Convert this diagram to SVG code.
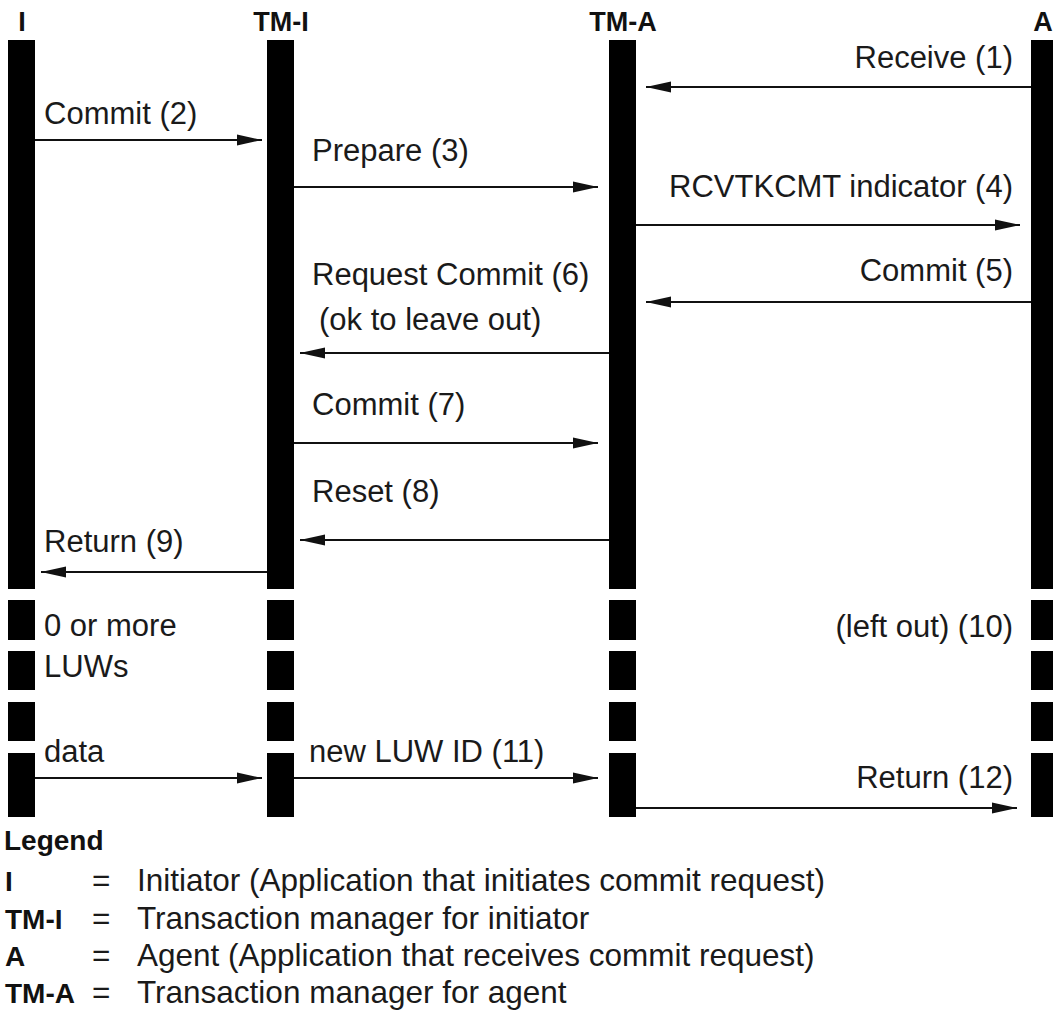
<svg xmlns="http://www.w3.org/2000/svg" width="1053" height="1027" viewBox="0 0 1053 1027">
<style>
  .bar { fill: #000; }
  .hdr { font-family: "Liberation Sans", Arial, sans-serif; font-weight: bold; font-size: 27px; fill: #111; }
  .lbl { font-family: "Liberation Sans", Arial, sans-serif; font-size: 31px; fill: #1a1a1a; }
  .lgt { font-family: "Liberation Sans", Arial, sans-serif; font-size: 31.5px; fill: #1a1a1a; }
  .end { text-anchor: end; }
  .msg { stroke: #111; stroke-width: 2; fill: none; marker-end: url(#ah); }
  .lgb { font-family: "Liberation Sans", Arial, sans-serif; font-weight: bold; font-size: 28px; fill: #111; }
</style>
<defs>
  <marker id="ah" markerUnits="userSpaceOnUse" markerWidth="26" markerHeight="12" refX="25" refY="6" orient="auto">
    <path d="M0,0.5 L25,6 L0,11.5 z" fill="#111"/>
  </marker>
</defs>
<rect width="1053" height="1027" fill="#fff"/>

<g id="node-I">
  <text class="hdr" x="22" y="31" text-anchor="middle">I</text>
  <rect class="bar" x="8" y="40" width="27" height="549"/>
  <rect class="bar" x="8" y="600" width="27" height="40"/>
  <rect class="bar" x="8" y="651" width="27" height="39"/>
  <rect class="bar" x="8" y="702" width="27" height="39"/>
  <rect class="bar" x="8" y="753" width="27" height="64"/>
</g>
<g id="node-TM-I">
  <text class="hdr" x="281" y="31" text-anchor="middle">TM-I</text>
  <rect class="bar" x="267" y="40" width="27" height="549"/>
  <rect class="bar" x="267" y="600" width="27" height="40"/>
  <rect class="bar" x="267" y="651" width="27" height="39"/>
  <rect class="bar" x="267" y="702" width="27" height="39"/>
  <rect class="bar" x="267" y="753" width="27" height="64"/>
</g>
<g id="node-TM-A">
  <text class="hdr" x="623" y="31" text-anchor="middle">TM-A</text>
  <rect class="bar" x="609" y="40" width="27" height="549"/>
  <rect class="bar" x="609" y="600" width="27" height="40"/>
  <rect class="bar" x="609" y="651" width="27" height="39"/>
  <rect class="bar" x="609" y="702" width="27" height="39"/>
  <rect class="bar" x="609" y="753" width="27" height="64"/>
</g>
<g id="node-A">
  <text class="hdr" x="1043" y="31" text-anchor="middle">A</text>
  <rect class="bar" x="1031" y="40" width="27" height="549"/>
  <rect class="bar" x="1031" y="600" width="27" height="40"/>
  <rect class="bar" x="1031" y="651" width="27" height="39"/>
  <rect class="bar" x="1031" y="702" width="27" height="39"/>
  <rect class="bar" x="1031" y="753" width="27" height="64"/>
</g>

<g id="connectors">
  <line class="msg" x1="1031" y1="87" x2="646" y2="87"/>
  <text class="lbl end" x="1013" y="68">Receive (1)</text>

  <line class="msg" x1="35" y1="140" x2="262" y2="140"/>
  <text class="lbl" x="44" y="124">Commit (2)</text>

  <line class="msg" x1="294" y1="187" x2="598" y2="187"/>
  <text class="lbl" x="312" y="161">Prepare (3)</text>

  <line class="msg" x1="636" y1="225" x2="1020" y2="225"/>
  <text class="lbl end" x="1013" y="197">RCVTKCMT indicator (4)</text>

  <line class="msg" x1="1031" y1="302" x2="646" y2="302"/>
  <text class="lbl end" x="1013" y="281">Commit (5)</text>

  <line class="msg" x1="609" y1="353" x2="300" y2="353"/>
  <text class="lbl" x="312" y="285">Request Commit (6)</text>
  <text class="lbl" x="319" y="330">(ok to leave out)</text>

  <line class="msg" x1="294" y1="443" x2="598" y2="443"/>
  <text class="lbl" x="312" y="415">Commit (7)</text>

  <line class="msg" x1="609" y1="540" x2="300" y2="540"/>
  <text class="lbl" x="312" y="502">Reset (8)</text>

  <line class="msg" x1="267" y1="572" x2="41" y2="572"/>
  <text class="lbl" x="44" y="552">Return (9)</text>

  <text class="lbl" x="44" y="636">0 or more</text>
  <text class="lbl" x="44" y="677">LUWs</text>
  <text class="lbl end" x="1013" y="637">(left out) (10)</text>

  <line class="msg" x1="35" y1="778" x2="262" y2="778"/>
  <text class="lbl" x="44" y="762">data</text>

  <line class="msg" x1="294" y1="778" x2="598" y2="778"/>
  <text class="lbl" x="309" y="762">new LUW ID (11)</text>

  <line class="msg" x1="636" y1="808" x2="1017" y2="808"/>
  <text class="lbl end" x="1013" y="788">Return (12)</text>
</g>

<g id="legend">
  <text class="lgb" x="4" y="850">Legend</text>
  <text class="lgb" x="5" y="891">I</text>
  <text class="lgt" x="92" y="891">=</text>
  <text class="lgt" x="137" y="891">Initiator (Application that initiates commit request)</text>
  <text class="lgb" x="5" y="929">TM-I</text>
  <text class="lgt" x="92" y="929">=</text>
  <text class="lgt" x="137" y="929">Transaction manager for initiator</text>
  <text class="lgb" x="5" y="966">A</text>
  <text class="lgt" x="92" y="966">=</text>
  <text class="lgt" x="137" y="966">Agent (Application that receives commit request)</text>
  <text class="lgb" x="5" y="1003">TM-A</text>
  <text class="lgt" x="92" y="1003">=</text>
  <text class="lgt" x="137" y="1003">Transaction manager for agent</text>
</g>
</svg>
